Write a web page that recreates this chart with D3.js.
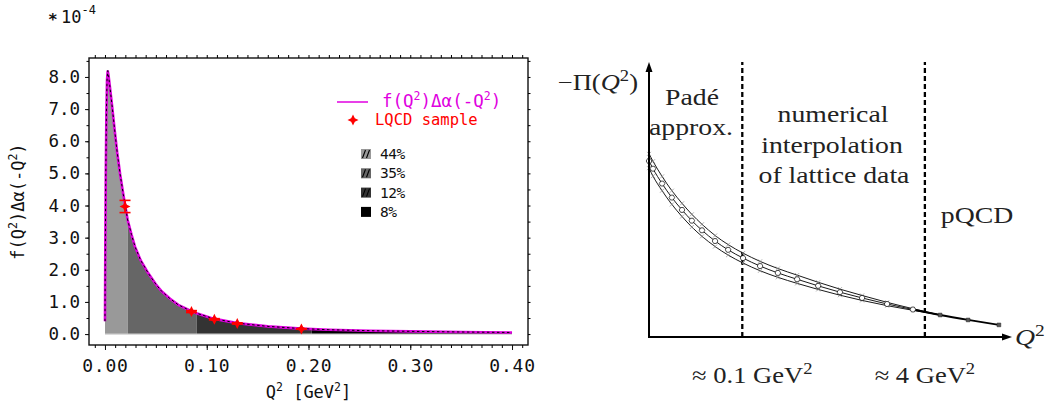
<!DOCTYPE html>
<html>
<head>
<meta charset="utf-8">
<script src="https://cdn.jsdelivr.net/npm/d3@7"></script>
<style>
  body { margin: 0; background: #fff; }
  svg { display: block; }
  .mono { font-family: "DejaVu Sans Mono", monospace; }
  .serif { font-family: "Liberation Serif", "DejaVu Serif", serif; }
</style>
</head>
<body>
<div id="chart"></div>
<script>
// ---- left panel: integrand f(Q^2) * delta alpha(-Q^2), units of 1e-4 ----
var curveQ2 = [0, 0.0003, 0.0008, 0.0014, 0.0020, 0.0027, 0.0035, 0.0050, 0.0070, 0.0095,
  0.0120, 0.0150, 0.0180, 0.0223, 0.0260, 0.0295, 0.0350, 0.0426, 0.0500, 0.0557,
  0.0640, 0.0720, 0.0850, 0.0900, 0.1065, 0.1300, 0.1600, 0.1930, 0.2200, 0.2600,
  0.3000, 0.3500, 0.4000];
var curveVal = [0.40, 2.5, 5.0, 6.9, 7.9, 8.2, 8.05, 7.65, 7.1, 6.35,
  5.65, 4.95, 4.35, 3.55, 3.10, 2.72, 2.30, 1.89, 1.55, 1.33,
  1.10, 0.91, 0.71, 0.65, 0.48, 0.34, 0.24, 0.17, 0.135, 0.105,
  0.085, 0.065, 0.05];

var lqcdQ2 = [0.0197, 0.085, 0.1075, 0.130, 0.193];
var lqcdVal = [3.97, 0.70, 0.46, 0.33, 0.16];
var lqcdErr = [0.19, 0.03, 0.02, 0.02, 0.01];

var regionEdges = [0, 0.0223, 0.090, 0.203, 0.40];
var regionShare = ["44%", "35%", "12%", "8%"];
var regionFill = ["#999999", "#666666", "#333333", "#000000"];
var regionHatch = [true, true, true, false];

var yTickVals = [0, 1, 2, 3, 4, 5, 6, 7, 8];
var xTickVals = [0, 0.1, 0.2, 0.3, 0.4];

// ---- right panel: schematic of -Pi(Q^2), arbitrary units ----
var bandX = [0, 0.011, 0.036, 0.063, 0.091, 0.118, 0.146, 0.182, 0.218, 0.259, 0.306,
  0.355, 0.408, 0.466, 0.526, 0.587, 0.656, 0.727, 0.802, 0.879, 0.964];
var bandMid = [0.640, 0.612, 0.558, 0.507, 0.462, 0.423, 0.388, 0.349, 0.317, 0.287, 0.258,
  0.233, 0.210, 0.186, 0.163, 0.142, 0.120, 0.100, 0.080, 0.062, 0.044];
var bandUpper = [0.666, 0.639, 0.584, 0.532, 0.486, 0.446, 0.410, 0.369, 0.336, 0.305, 0.275,
  0.249, 0.225, 0.199, 0.174, 0.151, 0.126, 0.103, 0.080, 0.062, 0.044];
var bandLower = [0.614, 0.585, 0.532, 0.482, 0.438, 0.400, 0.366, 0.329, 0.298, 0.269, 0.241,
  0.217, 0.195, 0.173, 0.152, 0.133, 0.114, 0.097, 0.080, 0.062, 0.044];
var splitX = [0.257, 0.760];

var svgWidth = 1058;
var svgHeight = 406;

var svg = d3.select("#chart")
  .append("svg")
  .attr("width", svgWidth)
  .attr("height", svgHeight);

var magenta = "#e000e0";
var red = "#ff0000";

// ================= LEFT PANEL =================
var frame = { left: 89, right: 528, top: 58, bottom: 345 };

var x = d3.scaleLinear().domain([-0.0157, 0.4157]).range([frame.left, frame.right]);
var y = d3.scaleLinear().domain([-0.34, 8.59]).range([frame.bottom, frame.top]);

var left = svg.append("g");

// shaded regions, clipped from one area
var area = d3.area()
  .x(function(d, i) { return x(curveQ2[i]); })
  .y0(y(0))
  .y1(function(d) { return y(d); });

var defs = svg.append("defs");
regionShare.forEach(function(s, i) {
  defs.append("clipPath").attr("id", "reg" + i)
    .append("rect")
    .attr("x", x(regionEdges[i]))
    .attr("y", frame.top)
    .attr("width", x(regionEdges[i + 1]) - x(regionEdges[i]))
    .attr("height", frame.bottom - frame.top);
  left.append("path")
    .datum(curveVal)
    .attr("d", area)
    .attr("fill", regionFill[i])
    .attr("clip-path", "url(#reg" + i + ")");
});

// thin light line along zero
left.append("line")
  .attr("x1", x(0)).attr("x2", x(0.4))
  .attr("y1", y(0)).attr("y2", y(0))
  .attr("stroke", "#cfcfcf").attr("stroke-width", 1.2);

// curve: magenta line with black dashes on top
var line = d3.line()
  .x(function(d, i) { return x(curveQ2[i]); })
  .y(function(d) { return y(d); });

left.append("path").datum(curveVal)
  .attr("d", line).attr("fill", "none")
  .attr("stroke", magenta).attr("stroke-width", 2.6);
left.append("path").datum(curveVal)
  .attr("d", line).attr("fill", "none")
  .attr("stroke", "#000").attr("stroke-width", 1)
  .attr("stroke-dasharray", "2.5,2.5");

// LQCD sample points
function starPath(r, ri) {
  var pts = [];
  for (var k = 0; k < 8; k++) {
    var a = k * Math.PI / 4 - Math.PI / 2;
    var rr = (k % 2 === 0) ? r : ri;
    pts.push([rr * Math.cos(a), rr * Math.sin(a)]);
  }
  return "M" + pts.map(function(p) { return p[0].toFixed(2) + "," + p[1].toFixed(2); }).join("L") + "Z";
}

var pts = left.selectAll(".lqcd")
  .data(lqcdVal)
  .enter()
  .append("g")
  .attr("class", "lqcd");

pts.append("line")
  .attr("x1", function(d, i) { return x(lqcdQ2[i]); })
  .attr("x2", function(d, i) { return x(lqcdQ2[i]); })
  .attr("y1", function(d, i) { return y(d - lqcdErr[i]); })
  .attr("y2", function(d, i) { return y(d + lqcdErr[i]); })
  .attr("stroke", red).attr("stroke-width", 1.6);
[-1, 1].forEach(function(sgn) {
  pts.append("line")
    .attr("x1", function(d, i) { return x(lqcdQ2[i]) - 5.5; })
    .attr("x2", function(d, i) { return x(lqcdQ2[i]) + 5.5; })
    .attr("y1", function(d, i) { return y(d + sgn * lqcdErr[i]); })
    .attr("y2", function(d, i) { return y(d + sgn * lqcdErr[i]); })
    .attr("stroke", red).attr("stroke-width", 1.6);
});
pts.append("path")
  .attr("d", starPath(5.5, 2.6))
  .attr("transform", function(d, i) { return "translate(" + x(lqcdQ2[i]) + "," + y(d) + ")"; })
  .attr("fill", red);

// frame
left.append("rect")
  .attr("x", frame.left).attr("y", frame.top)
  .attr("width", frame.right - frame.left)
  .attr("height", frame.bottom - frame.top)
  .attr("fill", "none").attr("stroke", "#111").attr("stroke-width", 1.4);

// ticks
var xMinor = d3.range(-1, 42).map(function(i) { return i / 100; });
var yMinor = d3.range(0, 18).map(function(i) { return i / 2; });

function noDomain(g) { g.select(".domain").remove(); }

left.append("g").attr("transform", "translate(0," + frame.bottom + ")")
  .call(d3.axisBottom(x).tickValues(xMinor).tickSize(3).tickFormat("")).call(noDomain);
left.append("g").attr("transform", "translate(0," + frame.top + ")")
  .call(d3.axisTop(x).tickValues(xMinor).tickSize(3).tickFormat("")).call(noDomain);
left.append("g").attr("transform", "translate(" + frame.left + ",0)")
  .call(d3.axisLeft(y).tickValues(yMinor).tickSize(2.5).tickFormat("")).call(noDomain);
left.append("g").attr("transform", "translate(" + frame.right + ",0)")
  .call(d3.axisRight(y).tickValues(yMinor).tickSize(2.5).tickFormat("")).call(noDomain);

var xAxis = left.append("g").attr("transform", "translate(0," + frame.bottom + ")")
  .call(d3.axisBottom(x).tickValues(xTickVals).tickSize(5).tickPadding(9).tickFormat(d3.format(".2f")))
  .call(noDomain);
var yAxis = left.append("g").attr("transform", "translate(" + frame.left + ",0)")
  .call(d3.axisLeft(y).tickValues(yTickVals).tickSize(4).tickPadding(5).tickFormat(d3.format(".1f")))
  .call(noDomain);

[xAxis, yAxis].forEach(function(ax) {
  ax.selectAll("line").attr("stroke", "#111");
  ax.selectAll("text")
    .attr("class", "mono")
    .attr("fill", "#111");
});
xAxis.selectAll("text").style("font-size", "18px").style("letter-spacing", "0.8px");
yAxis.selectAll("text").style("font-size", "17.5px").style("letter-spacing", "0px");

// axis titles
function supText(sel, parts, base, sup) {
  parts.forEach(function(p) {
    if (p.sup) {
      sel.append("tspan").text(p.t).style("font-size", sup + "px").attr("dy", -base * 0.42);
    } else {
      sel.append("tspan").text(p.t).style("font-size", base + "px").attr("dy", p.after ? base * 0.42 : 0);
    }
  });
}

var fLabel = [{ t: "f(Q" }, { t: "2", sup: true }, { t: ")Δα(-Q", after: true }, { t: "2", sup: true }, { t: ")", after: true }];

var ylab = left.append("text")
  .attr("class", "mono")
  .attr("text-anchor", "middle")
  .attr("transform", "translate(24," + ((frame.top + frame.bottom) / 2) + ") rotate(-90)")
  .attr("fill", "#111");
supText(ylab, fLabel, 17, 11.5);

var xlab = left.append("text")
  .attr("class", "mono")
  .attr("text-anchor", "middle")
  .attr("x", (frame.left + frame.right) / 2)
  .attr("y", 398)
  .attr("fill", "#111");
supText(xlab, [{ t: "Q" }, { t: "2", sup: true }, { t: " [GeV", after: true }, { t: "2", sup: true }, { t: "]", after: true }], 17, 11.5);

// exponent
left.append("text").attr("class", "mono").attr("x", 48).attr("y", 25)
  .style("font-size", "16px").style("font-weight", "bold").attr("fill", "#111").text("*");
var expo = left.append("text").attr("class", "mono").attr("x", 61).attr("y", 23).attr("fill", "#111");
expo.append("tspan").text("10").style("font-size", "17px");
expo.append("tspan").text("-4").style("font-size", "12px").attr("dy", -9);

// legend
left.append("line").attr("x1", 337).attr("x2", 368).attr("y1", 102).attr("y2", 102)
  .attr("stroke", magenta).attr("stroke-width", 1.5);
var legF = left.append("text").attr("class", "mono").attr("x", 382).attr("y", 107).attr("fill", magenta);
supText(legF, fLabel, 17.5, 11.5);

left.append("path").attr("d", starPath(5.5, 2.6))
  .attr("transform", "translate(353,120)").attr("fill", red);
left.append("text").attr("class", "mono").attr("x", 375).attr("y", 125)
  .style("font-size", "15.5px").attr("fill", red).text("LQCD sample");

var legRows = left.selectAll(".legrow")
  .data(regionShare)
  .enter()
  .append("g")
  .attr("class", "legrow")
  .attr("transform", function(d, i) { return "translate(361," + (149 + i * 19.3) + ")"; });
legRows.append("rect").attr("width", 10).attr("height", 10)
  .attr("fill", function(d, i) { return regionFill[i]; });
legRows.filter(function(d, i) { return regionHatch[i]; })
  .append("path")
  .attr("d", "M1.5,9L4.5,1M5.5,9L8.5,1")
  .attr("stroke", "#000").attr("stroke-width", 1.1);
legRows.append("text").attr("class", "mono")
  .attr("x", 19).attr("y", 10)
  .style("font-size", "14.5px").style("letter-spacing", "-0.5px")
  .attr("fill", "#111")
  .text(function(d) { return d; });

// ================= RIGHT PANEL =================
var rx = d3.scaleLinear().domain([0, 1]).range([649, 1012]);
var ry = d3.scaleLinear().domain([0, 1]).range([337, 62]);

var right = svg.append("g");

// dashed region separators
right.selectAll(".split")
  .data(splitX)
  .enter()
  .append("line")
  .attr("x1", function(d) { return rx(d); })
  .attr("x2", function(d) { return rx(d); })
  .attr("y1", ry(0))
  .attr("y2", ry(1))
  .attr("stroke", "#000").attr("stroke-width", 2.3)
  .attr("stroke-dasharray", "5,3");

// band lines
var nBand = bandX.filter(function(v) { return v <= 0.802; }).length;
var bline = d3.line()
  .x(function(d, i) { return rx(bandX[i]); })
  .y(function(d) { return ry(d); })
  .curve(d3.curveMonotoneX);

[bandUpper, bandLower, bandMid].forEach(function(arr) {
  right.append("path")
    .datum(arr.slice(0, nBand))
    .attr("d", bline)
    .attr("fill", "none")
    .attr("stroke", "#000")
    .attr("stroke-width", 0.9);
});
var tailStart = bandX.indexOf(0.727);
right.append("path")
  .datum(bandMid.slice(tailStart))
  .attr("d", d3.line()
    .x(function(d, i) { return rx(bandX[tailStart + i]); })
    .y(function(d) { return ry(d); })
    .curve(d3.curveMonotoneX))
  .attr("fill", "none").attr("stroke", "#000").attr("stroke-width", 1.8);

// small crosses on the band edges
[bandUpper, bandLower].forEach(function(arr) {
  right.selectAll(null)
    .data(arr.slice(0, tailStart))
    .enter()
    .append("path")
    .attr("transform", function(d, i) { return "translate(" + rx(bandX[i]) + "," + ry(d) + ")"; })
    .attr("d", "M-2,-2L2,2M-2,2L2,-2")
    .attr("stroke", "#888").attr("stroke-width", 0.7);
});

// hexagon markers on the central line
var hex = d3.range(6).map(function(k) {
  var a = k * Math.PI / 3;
  return [2.8 * Math.cos(a), 2.8 * Math.sin(a)];
});
right.selectAll(".hex")
  .data(bandMid.slice(0, tailStart + 1))
  .enter()
  .append("path")
  .attr("class", "hex")
  .attr("transform", function(d, i) { return "translate(" + rx(bandX[i]) + "," + ry(d) + ")"; })
  .attr("d", "M" + hex.join("L") + "Z")
  .attr("fill", "#fff").attr("stroke", "#000").attr("stroke-width", 0.7);

right.selectAll(".sq")
  .data(bandMid.slice(tailStart + 1))
  .enter()
  .append("path")
  .attr("class", "sq")
  .attr("transform", function(d, i) { return "translate(" + rx(bandX[tailStart + 1 + i]) + "," + ry(d) + ")"; })
  .attr("d", d3.symbol(d3.symbolSquare, 14))
  .attr("fill", "#555").attr("stroke", "#222").attr("stroke-width", 0.5);

// axes with arrows
right.append("line").attr("x1", rx(0)).attr("x2", rx(0)).attr("y1", ry(0) + 1).attr("y2", ry(1) + 8)
  .attr("stroke", "#000").attr("stroke-width", 2);
right.append("line").attr("x1", rx(0) - 1).attr("x2", rx(1) - 8).attr("y1", ry(0)).attr("y2", ry(0))
  .attr("stroke", "#000").attr("stroke-width", 2);
right.append("path")
  .attr("d", "M" + rx(0) + "," + ry(1) + "l-3.5,10l7,0z").attr("fill", "#000");
right.append("path")
  .attr("d", "M" + rx(1) + "," + ry(0) + "l-10,-3.5l0,7z").attr("fill", "#000");

// texts
function serifText(px, py, anchor, parts, size) {
  var t = right.append("text")
    .attr("class", "serif")
    .attr("text-anchor", anchor)
    .attr("transform", "translate(" + px + "," + py + ") scale(1.18,1)")
    .style("font-size", size + "px")
    .attr("fill", "#222");
  parts.forEach(function(p) {
    var s = t.append("tspan").text(p.t);
    if (p.it) s.style("font-style", "italic");
    if (p.sup) s.style("font-size", (size * 0.7) + "px").attr("dy", -size * 0.4);
    if (p.after) s.attr("dy", size * 0.4);
  });
  return t;
}

var fs = 23.5;
serifText(638, 90, "end", [{ t: "−Π(" }, { t: "Q", it: true }, { t: "2", sup: true }, { t: ")", after: true }], 22.5);
serifText(692, 105, "middle", [{ t: "Padé" }], fs);
serifText(691, 135, "middle", [{ t: "approx." }], fs);
serifText(833, 122, "middle", [{ t: "numerical" }], fs);
serifText(832, 153, "middle", [{ t: "interpolation" }], fs);
serifText(834, 183, "middle", [{ t: "of lattice data" }], fs);
serifText(977, 223, "middle", [{ t: "pQCD" }], fs);
serifText(rx(splitX[0]) + 10, 383, "middle", [{ t: "≈ 0.1 GeV" }, { t: "2", sup: true }], 22.5);
serifText(rx(splitX[1]), 383, "middle", [{ t: "≈ 4 GeV" }, { t: "2", sup: true }], 22.5);
serifText(1015, 345, "start", [{ t: "Q", it: true }, { t: "2", sup: true }], fs);
</script>
</body>
</html>
